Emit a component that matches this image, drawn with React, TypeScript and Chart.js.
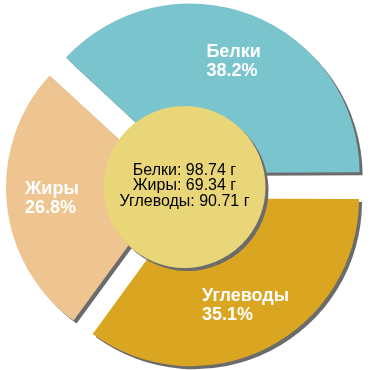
import React, { useEffect, useRef } from "react";
import { Chart, registerables } from "chart.js";

Chart.register(...registerables);

const categories = ["Белки", "Углеводы", "Жиры"];
const grams = [98.74, 90.71, 69.34];
const colors = ["#7AC5CD", "#DAA520", "#EEC591"];
const centerOrder = [0, 2, 1];
const unit = "г";

const FONT = "'Liberation Sans', Arial, sans-serif";

export default function App() {
  const ref = useRef<HTMLCanvasElement | null>(null);

  useEffect(() => {
    if (!ref.current) return;
    const total = grams.reduce((a, b) => a + b, 0);
    const offsetPx = 14;
    const radius = 165;

    const plugin = {
      id: "custom",
      beforeDatasetsDraw(chart: any) {
        const ctx = chart.ctx;
        ctx.save();
        ctx.shadowColor = "#6b6b6b";
        ctx.shadowOffsetX = 3;
        ctx.shadowOffsetY = 3;
        ctx.shadowBlur = 0;
      },
      afterDatasetsDraw(chart: any) {
        const ctx = chart.ctx;
        ctx.restore();
        const meta = chart.getDatasetMeta(0);
        let cx = 0, cy = 0;
        meta.data.forEach((arc: any, i: number) => {
          const mid = (arc.startAngle + arc.endAngle) / 2;
          cx = arc.x; cy = arc.y;
          const ax = arc.x + Math.cos(mid) * offsetPx;
          const ay = arc.y + Math.sin(mid) * offsetPx;
          const lx = ax + Math.cos(mid) * 164 * 0.73;
          const ly = ay + Math.sin(mid) * 164 * 0.73;
          const lines = [categories[i], ((grams[i] / total) * 100).toFixed(1) + "%"];
          ctx.save();
          ctx.font = `bold 18px ${FONT}`;
          ctx.fillStyle = "#ffffff";
          ctx.textAlign = "left";
          ctx.textBaseline = "middle";
          const w = Math.max(...lines.map((l) => ctx.measureText(l).width));
          const left = lx - w / 2;
          ctx.fillText(lines[0], left, ly - 9.5);
          ctx.fillText(lines[1], left, ly + 9.5);
          ctx.restore();
        });
        // center circle
        ctx.save();
        ctx.shadowColor = "#6b6b6b";
        ctx.shadowOffsetX = 3;
        ctx.shadowOffsetY = 3;
        ctx.beginPath();
        ctx.arc(cx - 0.5, cy + 1, 81, 0, Math.PI * 2);
        ctx.fillStyle = "#E9D679";
        ctx.fill();
        ctx.restore();
        ctx.save();
        ctx.font = `16px ${FONT}`;
        ctx.fillStyle = "#000000";
        ctx.textAlign = "center";
        ctx.textBaseline = "middle";
        centerOrder.forEach((idx, k) => {
          ctx.fillText(`${categories[idx]}: ${grams[idx]} ${unit}`, cx - 0.5, cy + (k - 1) * 15.5);
        });
        ctx.restore();
      },
    };

    const chart = new Chart(ref.current, {
      type: "pie",
      data: {
        labels: categories,
        datasets: [
          {
            data: grams,
            backgroundColor: colors,
            borderWidth: 0,
            offset: offsetPx * 4,
            hoverOffset: 0,
          },
        ],
      },
      options: {
        responsive: false,
        animation: false,
        rotation: 90 - (360 * grams[0]) / total,
        radius: radius,
        layout: { padding: { top: 2, bottom: 0, left: 0, right: 0 } },
        plugins: {
          legend: { display: false },
          tooltip: { enabled: false },
        },
        events: [],
      },
      plugins: [plugin],
    });
    return () => chart.destroy();
  }, []);

  return (
    <div style={{ position: "fixed", left: 0, top: 0, width: 370, height: 370, background: "#fff" }}>
      <canvas ref={ref} width={370} height={370} style={{ display: "block" }} />
    </div>
  );
}
